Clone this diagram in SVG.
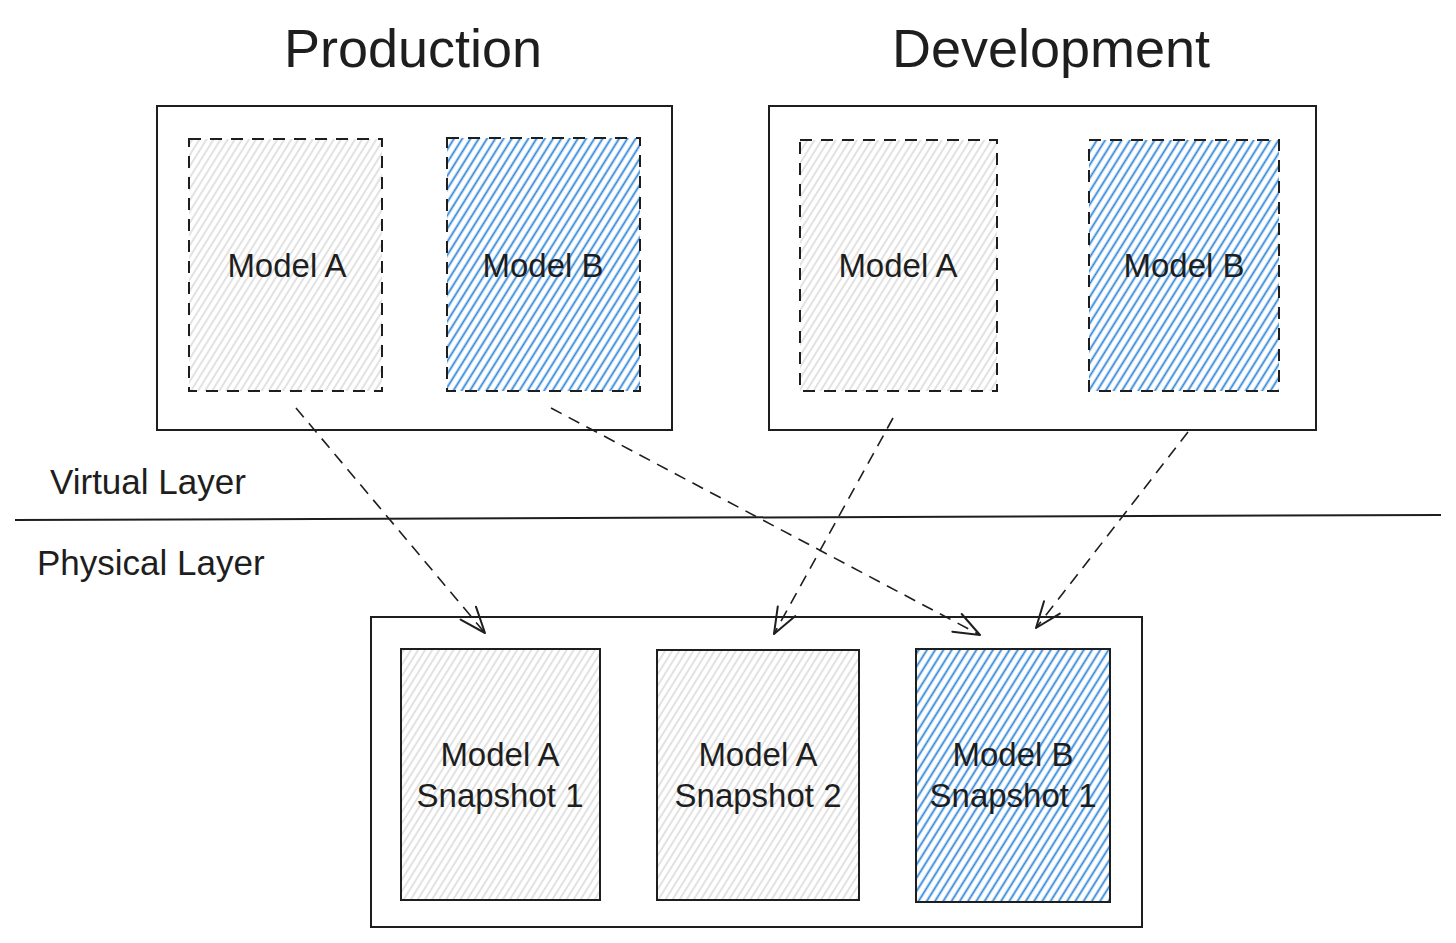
<svg xmlns="http://www.w3.org/2000/svg" width="1456" height="943" viewBox="0 0 1456 943">
  <defs>
    <pattern id="hatchGray" patternUnits="userSpaceOnUse" width="6" height="6" patternTransform="rotate(32)">
      <line x1="3" y1="0" x2="3" y2="6" stroke="#d2d2d2" stroke-width="1.3"/>
    </pattern>
    <pattern id="hatchBlue" patternUnits="userSpaceOnUse" width="7" height="7" patternTransform="rotate(32)">
      <line x1="3.5" y1="0" x2="3.5" y2="7" stroke="#2b84d8" stroke-width="1.8"/>
    </pattern>
    <marker id="arrow" markerUnits="userSpaceOnUse" markerWidth="40" markerHeight="40" refX="0" refY="0" viewBox="-30 -20 40 40" orient="auto" overflow="visible">
      <path d="M -26 -10 L 0 0 L -26 10" fill="none" stroke="#1e1e1e" stroke-width="2" stroke-linecap="round" stroke-linejoin="round"/>
    </marker>
  </defs>
  <style>
    .box { fill: #ffffff; stroke: #1e1e1e; stroke-width: 2; }
    .dash { stroke: #1e1e1e; stroke-width: 2; stroke-dasharray: 12 9; }
    .solid { stroke: #1e1e1e; stroke-width: 2; }
    .gray { fill: url(#hatchGray); }
    .blue { fill: url(#hatchBlue); }
    .title { font-family: "Liberation Sans", Arial, sans-serif; font-size: 54px; fill: #1e1e1e; text-anchor: middle; }
    .lbl { font-family: "Liberation Sans", Arial, sans-serif; font-size: 33px; fill: #1e1e1e; text-anchor: middle; }
    .layer { font-family: "Liberation Sans", Arial, sans-serif; font-size: 35px; fill: #1e1e1e; }
    .conn { fill: none; stroke: #1e1e1e; stroke-width: 1.6; stroke-dasharray: 12 8; }
  </style>
  <rect width="1456" height="943" fill="#ffffff"/>

  <g id="title-production"><text class="title" x="413" y="67">Production</text></g>
  <g id="title-development"><text class="title" x="1051" y="67">Development</text></g>

  <g id="production">
    <rect class="box" x="157" y="106" width="515" height="324"/>
  </g>
  <g id="prod-model-a">
    <rect class="gray dash" x="189" y="139" width="193" height="252"/>
    <text class="lbl" x="287" y="277">Model A</text>
  </g>
  <g id="prod-model-b">
    <rect class="blue dash" x="447" y="138" width="193" height="253"/>
    <text class="lbl" x="543" y="277">Model B</text>
  </g>

  <g id="development">
    <rect class="box" x="769" y="106" width="547" height="324"/>
  </g>
  <g id="dev-model-a">
    <rect class="gray dash" x="800" y="140" width="197" height="251"/>
    <text class="lbl" x="898" y="277">Model A</text>
  </g>
  <g id="dev-model-b">
    <rect class="blue dash" x="1089" y="140" width="190" height="251"/>
    <text class="lbl" x="1184" y="277">Model B</text>
  </g>

  <g id="layer-divider">
    <line x1="15" y1="520" x2="1441" y2="515" stroke="#1e1e1e" stroke-width="2"/>
    <text class="layer" x="50" y="494">Virtual Layer</text>
    <text class="layer" x="37" y="575">Physical Layer</text>
  </g>

  <g id="physical">
    <rect class="box" x="371" y="617" width="771" height="310"/>
  </g>
  <g id="snap-a1">
    <rect class="gray solid" x="401" y="649" width="199" height="251"/>
    <text class="lbl" x="500" y="766">Model A</text>
    <text class="lbl" x="500" y="807">Snapshot 1</text>
  </g>
  <g id="snap-a2">
    <rect class="gray solid" x="657" y="650" width="202" height="250"/>
    <text class="lbl" x="758" y="766">Model A</text>
    <text class="lbl" x="758" y="807">Snapshot 2</text>
  </g>
  <g id="snap-b1">
    <rect class="blue solid" x="916" y="649" width="194" height="253"/>
    <text class="lbl" x="1013" y="766">Model B</text>
    <text class="lbl" x="1013" y="807">Snapshot 1</text>
  </g>

  <g id="connectors">
    <line class="conn" x1="296" y1="408" x2="485" y2="633" marker-end="url(#arrow)"/>
    <line class="conn" x1="551" y1="408" x2="980" y2="635" marker-end="url(#arrow)"/>
    <line class="conn" x1="893" y1="418" x2="774" y2="634" marker-end="url(#arrow)"/>
    <line class="conn" x1="1188" y1="432" x2="1036" y2="628" marker-end="url(#arrow)"/>
  </g>
</svg>
